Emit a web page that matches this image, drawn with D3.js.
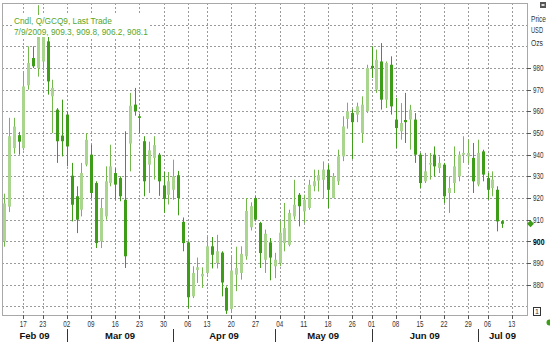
<!DOCTYPE html>
<html><head><meta charset="utf-8">
<script src="https://cdn.jsdelivr.net/npm/d3@7"></script>
<style>html,body{margin:0;padding:0;background:#fff;}svg{display:block;}</style>
</head><body>
<script>
// ---------- data ----------
const firstDay = "2009-02-10", lastAxisDay = "2009-07-13";
const holidays = ["2009-02-16","2009-04-10","2009-05-25","2009-07-03"];
const open  = [900,916,943,949,943,972,984.6,980,983,992.3,966.9,960.8,948.8,958.5,930.3,920.8,914.6,935.4,940,926.9,900,911.5,926.9,931.5,929.2,919.2,945.1,963.1,957.7,946.2,935.4,938.5,940,925.8,921.5,923.8,930.5,909,899.5,874.6,886.8,883.8,885.4,897.7,890,894.8,878.5,868.8,884.6,885.4,893.1,906.5,920,908.5,891.5,899.5,888.5,890,899.2,898.4,911.5,921.5,913.8,915.4,925.4,928,928.4,933.1,920,927.7,939.2,956.5,959.2,958.5,950,960,981,970,983,965.4,981.5,956.2,950.8,956,956.2,956.2,940,927.7,935.4,940,933.8,935.4,922.3,926.9,930,940,939.2,938.5,926.2,941.5,929.2,924.6,923.8,909.3];
const high  = [922,957,957,950.5,978.5,990,990,1009,1000,994.6,974.6,961.5,965.4,960,936.2,925.4,936.2,950,944.6,927.7,920,934.6,944.6,933.8,930,950.8,968.5,970.8,959,948.5,946,948.5,940.8,932,932,937.7,932.5,911,900,888.5,892.5,888,902,902,903,895.4,879.2,892.8,897.5,897.7,920,918,920.8,909,905.4,901.5,894.7,909.5,917.7,914.6,928.4,922.3,921.5,928.4,933.1,933,936.9,935.4,931.5,942.3,957.7,964,961,964,966.9,981.5,990,988.5,991.5,983,985.4,966.2,963.8,968.5,963,959.2,940.8,940.8,940.8,943.8,939.2,936.2,930,943.8,941.5,948.5,947,945.4,946.9,942.3,931.5,932.3,925.4,909.8];
const low   = [897.5,913.5,940.5,940,942,970,980,976,979,967.7,950,936.2,939.2,934.6,909.2,903.8,911.5,934.6,920,896.9,896.9,910,925.4,919.2,918.5,887.7,932.3,958,950,920.8,922.3,928.5,921,913.1,917,919.2,912,895.4,869,873.8,880.8,878.5,884.6,887.5,887.5,874.6,866.5,866.9,877,882.3,891.5,905,909.2,887.7,885.4,882,883,888.5,895.4,897.7,910,906.9,908.5,914.6,923.1,923,920,915.4,920,926,937,952,938,955,945.4,959.2,975.4,968.5,960.8,961.5,958.5,943.1,946.9,945.4,942.3,936.2,924.6,926.9,928.5,930,931.5,917.7,913.1,922.3,927.7,936.2,936,922.3,925.4,927.7,919.2,920.8,904.6,906.2];
const close = [917.5,948.5,953,946,971.5,982.3,980.8,1003,995,973.8,970.8,946.2,946.2,943.8,916.9,910,931.5,946.9,922.3,899.2,915.4,927.7,934.6,926.2,920.8,893.1,962.6,960,957,927.7,942,944.4,927.7,919.6,927.7,930,920,899.2,874.2,885.4,888,885,897.7,893.8,895.4,881,868,886.5,887.7,894.2,914,916.2,910,894.6,903.5,892.5,891.5,904,906.1,913.1,916.9,916.2,919.2,926.1,927.7,930.5,933.1,923.8,930,939.2,953,960,955,962.3,963.1,980,980,983.8,965.4,982.3,962.3,952.3,954.6,955,960.8,940,926.9,932.3,936.2,934.6,936.2,920.8,924.6,934.6,940,940.8,940.8,927.7,940.8,930.8,923.8,928.5,909.2,908.1];
const tickDates = ["2009-02-17","2009-02-23","2009-03-02","2009-03-09","2009-03-16","2009-03-23","2009-03-30","2009-04-06","2009-04-13","2009-04-20","2009-04-27","2009-05-04","2009-05-11","2009-05-18","2009-05-26","2009-06-01","2009-06-08","2009-06-15","2009-06-22","2009-06-29","2009-07-06","2009-07-13"];
const yTicks = [880,890,900,910,920,930,940,950,960,970,980];
const yGrid = [870,880,890,900,910,920,930,940,950,960,970,980,990,1000];
const legendLines = ["Cndl, Q/GCQ9, Last Trade","7/9/2009, 909.3, 909.8, 906.2, 908.1"];
const unitLabels = ["Price","USD","Ozs"];

// ---------- build ----------
const fmt = d3.timeFormat("%Y-%m-%d"), parse = d3.timeParse("%Y-%m-%d");
const days = d3.timeDay.range(parse(firstDay), d3.timeDay.offset(parse(lastAxisDay),1))
  .filter(d => d.getDay()!==0 && d.getDay()!==6 && !holidays.includes(fmt(d))).map(fmt);
const data = open.map((o,i)=>({date:days[i],o,h:high[i],l:low[i],c:close[i]}));

const W=550,H=343, L=2, R=527, T=3, B=315;
const x = d3.scalePoint().domain(days).range([4, 511.8]);
const y = d3.scaleLinear().domain([866,1010]).range([B,T]);

const svg = d3.select("body").append("svg").attr("width",W).attr("height",H);
svg.append("rect").attr("width",W).attr("height",H).attr("fill","#fff");

const grid = svg.append("g").attr("stroke","#9a9a9a").attr("stroke-dasharray","2,2").attr("stroke-width",1);
grid.selectAll(".hg").data(yGrid).join("line")
  .attr("x1",L).attr("x2",R).attr("y1",d=>Math.round(y(d))+0.5).attr("y2",d=>Math.round(y(d))+0.5);
grid.selectAll(".vg").data(tickDates).join("line")
  .attr("y1",T).attr("y2",B).attr("x1",d=>Math.round(x(d))+0.5).attr("x2",d=>Math.round(x(d))+0.5);

// frame
svg.append("rect").attr("x",L+0.5).attr("y",T+0.5).attr("width",R-L).attr("height",B-T)
  .attr("fill","none").attr("stroke","#a8a8a8");

// candles
const upFill="#a9d58e", upStroke="#72b84a", dnFill="#3d9c18", dnStroke="#3d9c18";
const cg = svg.append("g");
cg.selectAll("line").data(data).join("line")
  .attr("x1",d=>Math.round(x(d.date))+0.5).attr("x2",d=>Math.round(x(d.date))+0.5)
  .attr("y1",d=>y(d.h)).attr("y2",d=>y(d.l))
  .attr("stroke",d=>d.c>=d.o?upStroke:dnStroke).attr("stroke-width",1);
cg.selectAll("rect").data(data).join("rect")
  .attr("x",d=>Math.round(x(d.date))-1).attr("width",3)
  .attr("y",d=>y(Math.max(d.o,d.c)))
  .attr("height",d=>Math.max(1,Math.abs(y(d.o)-y(d.c))))
  .attr("fill",d=>d.c>=d.o?upFill:dnFill);

// legend
svg.append("rect").attr("x",12).attr("y",15).attr("width",138).attr("height",22).attr("fill","#fff");
svg.selectAll(".leg").data(legendLines).join("text")
  .attr("x",14).attr("y",(d,i)=>23.5+i*11).text(d=>d)
  .attr("font-family","Liberation Sans, Arial, sans-serif").attr("font-size",8.3).attr("fill","#56a629");

// right axis
const ra = svg.append("g").attr("font-family","Liberation Sans, Arial, sans-serif").attr("fill","#333");
ra.selectAll("line").data(yTicks).join("line")
  .attr("x1",R).attr("x2",531).attr("y1",d=>Math.round(y(d))+0.5).attr("y2",d=>Math.round(y(d))+0.5).attr("stroke","#555");
ra.selectAll("text").data(yTicks).join("text")
  .attr("x",533).attr("y",d=>y(d)).attr("dy","0.35em").text(d=>d)
  .attr("font-size",d=>d===900?9.5:8.5).attr("font-weight",d=>d===900?"bold":"normal")
  .attr("fill",d=>d===900?"#000":"#333")
  .attr("textLength",d=>d===900?11.5:10.5).attr("lengthAdjust","spacingAndGlyphs");
ra.selectAll(".unit").data(unitLabels).join("text")
  .attr("x",531).attr("y",(d,i)=>[21.7,33,45.7][i]).text(d=>d)
  .attr("font-size",8.5).attr("fill","#333")
  .attr("textLength",d=>d.length===5?15:12).attr("lengthAdjust","spacingAndGlyphs");

// bottom axis ticks
const ba = svg.append("g").attr("font-family","Liberation Sans, Arial, sans-serif").attr("fill","#333");
ba.selectAll("line").data(tickDates).join("line")
  .attr("x1",d=>Math.round(x(d))+0.5).attr("x2",d=>Math.round(x(d))+0.5).attr("y1",B).attr("y2",319).attr("stroke","#555");
ba.selectAll("text").data(tickDates).join("text")
  .attr("x",d=>x(d)).attr("y",326.5).attr("text-anchor","middle")
  .text(d=>d3.timeFormat("%d")(parse(d)))
  .attr("font-size",8.5).attr("textLength",7).attr("lengthAdjust","spacingAndGlyphs");

// months
const monthStarts = days.filter((d,i)=> i>0 && d.slice(5,7)!==days[i-1].slice(5,7));
const bounds = [L].concat(monthStarts.map(d=>x(d)), [R]);
const monthNames = [days[0]].concat(monthStarts);
ba.selectAll(".sep").data(monthStarts).join("line")
  .attr("x1",d=>Math.round(x(d))+0.5).attr("x2",d=>Math.round(x(d))+0.5).attr("y1",329).attr("y2",342).attr("stroke","#333");
ba.selectAll(".mon").data(monthNames).join("text")
  .attr("x",(d,i)=>(bounds[i]+bounds[i+1])/2).attr("y",338.5).attr("text-anchor","middle")
  .text(d=>d3.timeFormat("%b %y")(parse(d)))
  .attr("font-size",9.5).attr("font-weight","bold").attr("fill","#111");

// markers
const last = data[data.length-1];
const cy = y(last.c);
svg.append("path").attr("d",`M530.5,${cy-3.5}L534,${cy}L530.5,${cy+3.5}L527,${cy}Z`).attr("fill","#3d9c18");
svg.append("circle").attr("cx",549.5).attr("cy",322.5).attr("r",3).attr("fill","#3d9c18");
svg.append("rect").attr("x",533.5).attr("y",307.5).attr("width",7).attr("height",8).attr("fill","#fff").attr("stroke","#333");
svg.append("text").attr("x",537).attr("y",314).attr("text-anchor","middle").text("1")
  .attr("font-family","Liberation Sans, Arial, sans-serif").attr("font-size",7).attr("fill","#333");
svg.append("rect").attr("x",540).attr("y",2).attr("width",6).attr("height",6).attr("fill","#555");
svg.append("rect").attr("x",541.5).attr("y",4).attr("width",3).attr("height",2).attr("fill","#ddd");
</script>
</body></html>
